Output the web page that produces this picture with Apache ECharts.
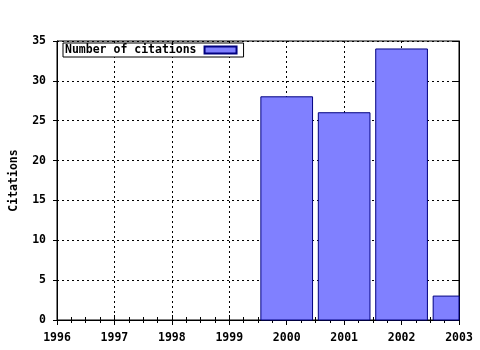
<!DOCTYPE html>
<html><head><meta charset="utf-8">
<script src="https://cdn.jsdelivr.net/npm/echarts@6/dist/echarts.min.js"></script>
<style>html,body{margin:0;padding:0;background:#fff}#c{width:480px;height:350px}</style>
</head><body><div id="c"></div>
<script>
const years = [2000, 2001, 2002, 2003];
const citations = [28, 26, 34, 3];
const yTicks = [0, 5, 10, 15, 20, 25, 30, 35];
const xTicks = [1996, 1997, 1998, 1999, 2000, 2001, 2002, 2003];

const font = '"DejaVu Sans Mono", "Liberation Mono", monospace';
const FS = 11.5;
const chart = echarts.init(document.getElementById('c'), null, {renderer: 'canvas'});
const xBase = {
  type: 'value', min: xTicks[0], max: xTicks[xTicks.length - 1], interval: 1,
  axisLine: {show: true, lineStyle: {color: '#000', width: 1}},
  minorTick: {show: true, splitNumber: 4, length: 3, lineStyle: {color: '#000'}},
  axisTick: {show: true, inside: true, length: 5, lineStyle: {color: '#000'}}
};
const BAR_FRACTION = 0.9;
chart.setOption({
  animation: false,
  grid: {left: 57, right: 21, top: 41, bottom: 30, show: true, borderColor: '#000', borderWidth: 1,
    outerBoundsMode: 'none', containLabel: false},
  legend: {
    left: 63, top: 43, align: 'right', itemWidth: 32, itemHeight: 7, itemGap: 6,
    padding: [1, 6, 1, 2], borderColor: '#000', borderWidth: 1, borderRadius: 0, backgroundColor: '#fff',
    textStyle: {fontFamily: font, fontWeight: 'bold', fontSize: FS, color: '#000', padding: [0, 3, 0, 0]},
    data: [{name: 'Number of citations', icon: 'rect'}]
  },
  xAxis: [
    Object.assign({}, xBase, {
      position: 'bottom',
      axisLabel: {color: '#000', fontFamily: font, fontWeight: 'bold', fontSize: FS, margin: 12,
        formatter: v => String(v)},
      splitLine: {show: true, lineStyle: {color: '#000', type: [2, 3], width: 1}}
    }),
    Object.assign({}, xBase, {
      position: 'top', axisLabel: {show: false}, splitLine: {show: false}
    })
  ],
  yAxis: [
    {
      type: 'value', min: yTicks[0], max: yTicks[yTicks.length - 1], interval: 5,
      name: 'Citations', nameLocation: 'middle', nameGap: 37, nameRotate: 90,
      nameTextStyle: {color: '#000', fontFamily: font, fontWeight: 'bold', fontSize: FS},
      axisLine: {show: true, lineStyle: {color: '#000'}},
      axisTick: {show: true, inside: false, length: 4, lineStyle: {color: '#000'}},
      axisLabel: {color: '#000', fontFamily: font, fontWeight: 'bold', fontSize: FS, margin: 11},
      splitLine: {show: true, lineStyle: {color: '#000', type: [2, 3], width: 1}}
    },
    {
      type: 'value', min: yTicks[0], max: yTicks[yTicks.length - 1], interval: 5, position: 'right',
      axisLine: {show: true, lineStyle: {color: '#000'}},
      axisTick: {show: true, inside: true, length: 5, lineStyle: {color: '#000'}},
      axisLabel: {show: false}, splitLine: {show: false}
    }
  ],
  series: [{
    name: 'Number of citations', type: 'custom', xAxisIndex: 0, yAxisIndex: 0,
    itemStyle: {color: '#8080ff', borderColor: '#000080', borderWidth: 1},
    encode: {x: 0, y: 1},
    data: years.map((y, i) => [y, citations[i]]),
    renderItem: function (params, api) {
      const x = api.value(0), v = api.value(1);
      const top = api.coord([x, v]);
      const base = api.coord([x, 0]);
      const w = api.size([BAR_FRACTION, 0])[0];
      const cs = params.coordSys;
      const rect = echarts.graphic.clipRectByRect(
        {x: top[0] - w / 2, y: top[1], width: w, height: base[1] - top[1]},
        {x: cs.x, y: cs.y, width: cs.width, height: cs.height});
      if (!rect) return null;
      return {type: 'rect', shape: rect,
        style: {fill: '#8080ff', stroke: '#000080', lineWidth: 1}};
    }
  }]
});
</script></body></html>
